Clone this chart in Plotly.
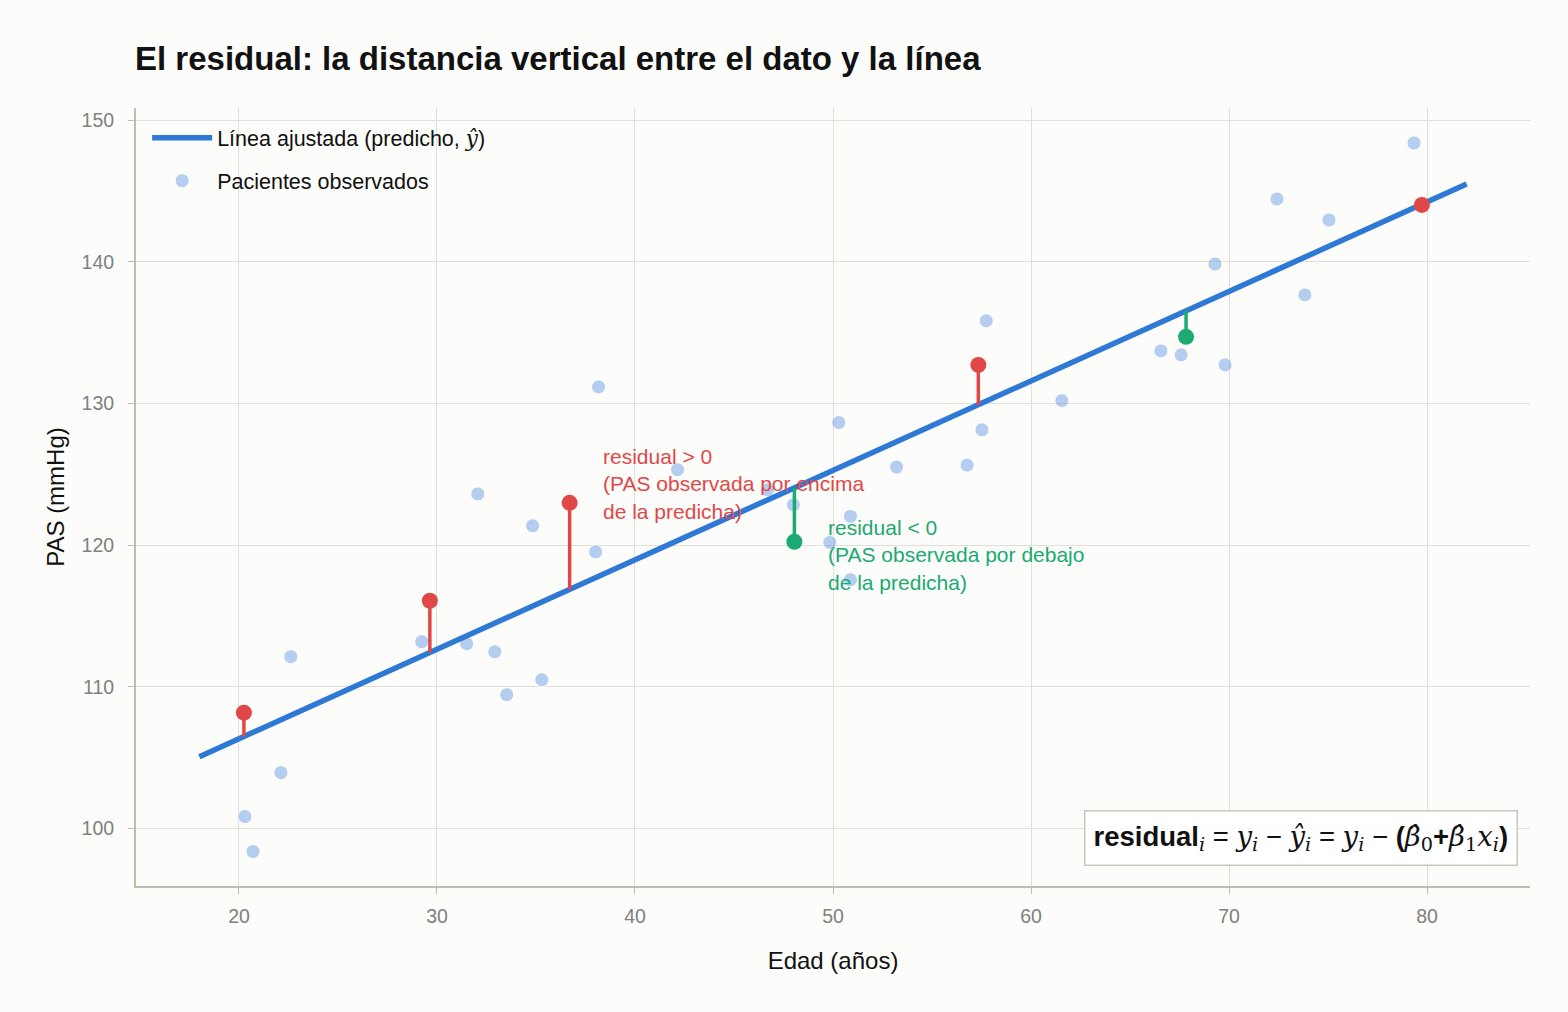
import plotly.graph_objects as go

# Observed patients (edad, PAS)
obs_x = [20.30, 20.71, 22.12, 22.62, 29.23, 31.50, 32.06, 32.92, 33.52, 34.83, 35.29,
         38.01, 38.16, 42.15, 46.69, 48.00, 49.84, 50.29, 50.88, 50.88, 53.21, 56.77,
         57.52, 57.74, 61.56, 66.56, 67.58, 69.29, 69.80, 72.42, 73.83, 75.05, 79.34]
obs_y = [100.85, 98.38, 103.95, 112.13, 113.19, 113.05, 123.62, 112.48, 109.45, 121.37, 110.51,
         119.53, 131.17, 125.32, 123.91, 122.85, 120.19, 128.65, 122.03, 117.56, 125.51, 125.65,
         128.14, 135.83, 130.20, 133.71, 133.43, 139.84, 132.72, 144.43, 137.66, 142.95, 148.38]

# Highlighted patients with residuals
pos_x = [20.25, 29.64, 36.70, 57.34, 79.74]
pos_y = [108.18, 116.08, 122.99, 132.72, 144.01]
neg_x = [48.05, 67.83]
neg_y = [120.24, 134.70]

# Fitted line
b0 = 93.71
b1 = 0.6314
line_x = [18, 82]

x_ticks = [20, 30, 40, 50, 60, 70, 80]
y_ticks = [100, 110, 120, 130, 140, 150]

BLUE = "#2e78d6"
RED = "#e04848"
GREEN = "#1aaa72"


def pred(x):
    return b0 + b1 * x


def segs(xs, ys):
    sx, sy = [], []
    for x, y in zip(xs, ys):
        sx += [x, x, None]
        sy += [y, pred(x), None]
    return sx, sy


fig = go.Figure()

fig.add_trace(go.Scatter(
    x=obs_x + pos_x + neg_x, y=obs_y + pos_y + neg_y, mode="markers",
    name="Pacientes observados", legendrank=2, legendgroup="b",
    marker=dict(size=14, color="rgba(110,158,228,0.5)",
                line=dict(width=1, color="rgba(255,255,255,0.85)")),
))

fig.add_trace(go.Scatter(
    x=line_x, y=[pred(v) for v in line_x], mode="lines", legendrank=1, legendgroup="a",
    name="Línea ajustada (predicho, <span style='font-family:DejaVu Serif'><i>ŷ</i></span>)",
    line=dict(color=BLUE, width=5.5),
))

sx, sy = segs(pos_x, pos_y)
fig.add_trace(go.Scatter(x=sx, y=sy, mode="lines", showlegend=False,
                         line=dict(color=RED, width=3.5)))
sx, sy = segs(neg_x, neg_y)
fig.add_trace(go.Scatter(x=sx, y=sy, mode="lines", showlegend=False,
                         line=dict(color=GREEN, width=3.5)))
fig.add_trace(go.Scatter(x=pos_x, y=pos_y, mode="markers", showlegend=False,
                         marker=dict(size=16, color=RED)))
fig.add_trace(go.Scatter(x=neg_x, y=neg_y, mode="markers", showlegend=False,
                         marker=dict(size=16, color=GREEN)))

fig.add_annotation(x=38.27, y=127.2, xref="x", yref="y", xanchor="left", yanchor="top",
                   align="left", showarrow=False,
                   text="residual > 0<br>(PAS observada por encima<br>de la predicha)",
                   font=dict(size=21, color=RED, family="Liberation Sans"))
fig.add_annotation(x=49.67, y=122.2, xref="x", yref="y", xanchor="left", yanchor="top",
                   align="left", showarrow=False,
                   text="residual < 0<br>(PAS observada por debajo<br>de la predicha)",
                   font=dict(size=21, color=GREEN, family="Liberation Sans"))

S = "<span style='font-family:DejaVu Serif'>"
formula = ("<b>residual</b>" + S + "<i><sub>i</sub></i></span> = " + S + "<i>y<sub>i</sub></i></span> − "
           + S + "<i>ŷ<sub>i</sub></i></span> = " + S + "<i>y<sub>i</sub></i></span> − <b>(</b>"
           + S + "<i>β̂</i><sub>0</sub></span><b>+</b>" + S + "<i>β̂</i><sub>1</sub><i>x<sub>i</sub></i></span><b>)</b>")
fig.add_annotation(x=0.9915, y=0.026, xref="paper", yref="paper", xanchor="right", yanchor="bottom",
                   showarrow=False, text=formula,
                   font=dict(size=27.5, color="#111111", family="Liberation Sans"),
                   bgcolor="rgba(255,255,255,0.9)", bordercolor="#c8c8bc", borderwidth=1.5,
                   borderpad=8)

fig.update_layout(
    width=1568, height=1012,
    paper_bgcolor="#fcfcfa", plot_bgcolor="#fcfcfa",
    margin=dict(l=136, r=38, t=108, b=126),
    font=dict(family="Liberation Sans", color="#222222"),
    title=dict(text="<b>El residual: la distancia vertical entre el dato y la línea</b>",
               x=135 / 1568, xanchor="left", y=1 - 58 / 1012, yanchor="middle",
               font=dict(size=33, color="#111111", family="Liberation Sans")),
    legend=dict(x=0.008, y=0.988, xanchor="left", yanchor="top", bgcolor="rgba(0,0,0,0)",
                font=dict(size=21.5, color="#111111"), traceorder="grouped",
                itemwidth=60, tracegroupgap=12),
    showlegend=True,
)

fig.update_xaxes(range=[14.8, 85.2], tickvals=x_ticks, ticktext=[str(v) for v in x_ticks],
                 showgrid=True, gridcolor="#e0dfd8", gridwidth=1.3,
                 showline=True, linecolor="#bdbdb0", linewidth=2,
                 ticks="outside", ticklen=6, tickcolor="#bdbdb0", ticklabelstandoff=6,
                 tickfont=dict(size=19.5, color="#808080"), zeroline=False,
                 title=dict(text="Edad (años)", font=dict(size=24, color="#111111"), standoff=26))
fig.update_yaxes(range=[95.95, 150.85], tickvals=y_ticks, ticktext=[str(v) for v in y_ticks],
                 showgrid=True, gridcolor="#e0dfd8", gridwidth=1.3,
                 showline=True, linecolor="#bdbdb0", linewidth=2,
                 ticks="outside", ticklen=6, tickcolor="#bdbdb0", ticklabelstandoff=10,
                 tickfont=dict(size=19.5, color="#808080"), zeroline=False,
                 title=dict(text="PAS (mmHg)", font=dict(size=24, color="#111111"), standoff=10))

fig.write_html("out.html", config={"displayModeBar": False},
               post_script="document.body.style.margin='0';")
